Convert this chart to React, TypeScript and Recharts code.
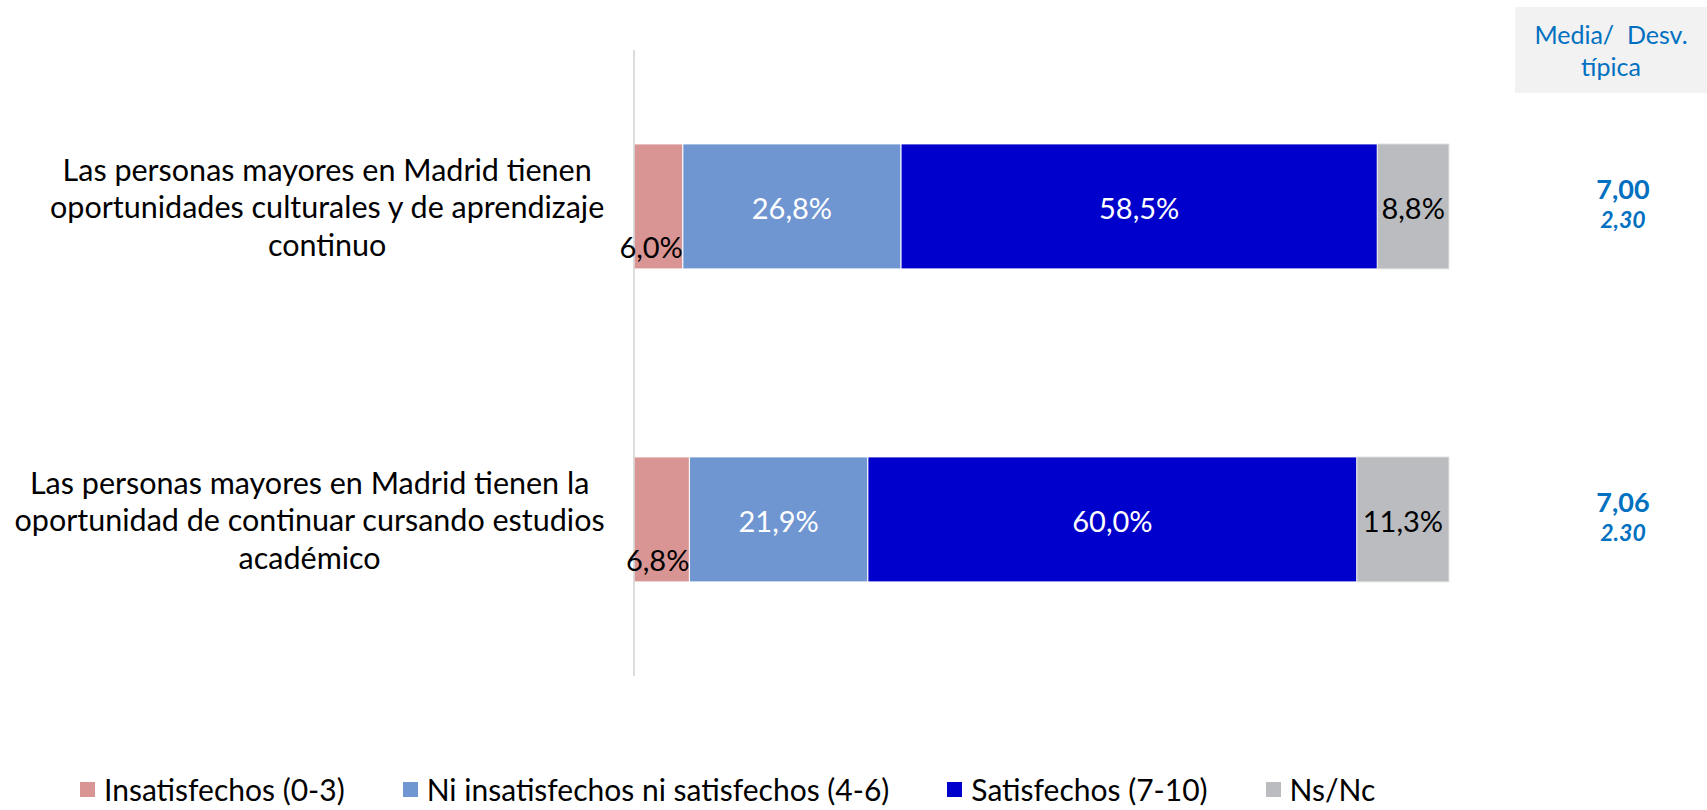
import * as React from "react";
import { BarChart, Bar, XAxis, YAxis, LabelList } from "recharts";

const categories = [
  "Las personas mayores en Madrid tienen oportunidades culturales y de aprendizaje continuo",
  "Las personas mayores en Madrid tienen la oportunidad de continuar cursando estudios académico",
];
const categoryLines = [
  ["Las personas mayores en Madrid tienen", "oportunidades culturales y de aprendizaje", "continuo"],
  ["Las personas mayores en Madrid tienen la", "oportunidad de continuar cursando estudios", "académico"],
];
const insatisfechos = [6.0, 6.8];
const neutros = [26.8, 21.9];
const satisfechos = [58.5, 60.0];
const nsnc = [8.8, 11.3];
const medias = ["7,00", "7,06"];
const desviaciones = ["2,30", "2.30"];

const seriesNames = [
  "Insatisfechos (0-3)",
  "Ni insatisfechos ni satisfechos (4-6)",
  "Satisfechos (7-10)",
  "Ns/Nc",
];
const seriesColors = ["#D99594", "#6F96D1", "#0000CC", "#BABCBF"];

const FONT = "Lato, 'Open Sans', sans-serif";
const BLUE = "#0070C0";

const data = categories.map((name, i) => ({
  name,
  ins: insatisfechos[i],
  neu: neutros[i],
  sat: satisfechos[i],
  ns: nsnc[i],
}));

const fmt = (v: number) => v.toFixed(1).replace(".", ",") + "%";

let ctx: CanvasRenderingContext2D | null = null;
function textWidth(s: string, size: number) {
  if (!ctx) ctx = document.createElement("canvas").getContext("2d");
  if (!ctx) return s.length * size * 0.5;
  ctx.font = `${size}px Lato`;
  return ctx.measureText(s).width;
}

const CategoryTick = (props: any) => {
  const { y, payload } = props;
  const idx = categories.indexOf(payload.value);
  const lines = categoryLines[idx] || [payload.value];
  const size = 30.5;
  const lh = 37.5;
  const right = 605;
  const w = Math.max(...lines.map((l) => textWidth(l, size)));
  const cx = right - w / 2;
  const y0 = y - ((lines.length - 1) * lh) / 2 + 1;
  return (
    <text x={cx} y={y0} textAnchor="middle" fontFamily={FONT} fontSize={size} fill="#000">
      {lines.map((l, i) => (
        <tspan key={i} x={cx} y={y0 + i * lh} dy="0.35em">
          {l}
        </tspan>
      ))}
    </text>
  );
};

const StatsTick = (props: any) => {
  const { x, y, payload } = props;
  const idx = categories.indexOf(payload.value);
  const cx = x + 166;
  return (
    <g>
      <text x={cx} y={y - 17} dy="0.35em" textAnchor="middle" fontFamily={FONT} fontWeight="bold" fontSize={27} fill={BLUE}>
        {medias[idx]}
      </text>
      <text x={cx} y={y + 13} dy="0.35em" textAnchor="middle" fontFamily={FONT} fontWeight="bold" fontStyle="italic" fontSize={23} fill={BLUE}>
        {desviaciones[idx]}
      </text>
    </g>
  );
};

const makeLabel = (values: number[], color: string, outside = false) => (props: any) => {
  const { x, y, width, height, index } = props;
  const v = values[index];
  if (outside) {
    return (
      <text x={x + width} y={y + height / 2 + 41} dy="0.35em" textAnchor="end" fontFamily={FONT} fontSize={29} fill={color}>
        {fmt(v)}
      </text>
    );
  }
  return (
    <text x={x + width / 2} y={y + height / 2 + 2} dy="0.35em" textAnchor="middle" fontFamily={FONT} fontSize={29} fill={color}>
      {fmt(v)}
    </text>
  );
};

export default function App() {
  return (
    <div style={{ position: "absolute", left: 0, top: 0, width: 1707, height: 810, overflow: "hidden", background: "#fff", fontFamily: FONT }}>
      <BarChart
        width={1707}
        height={810}
        data={data}
        layout="vertical"
        stackOffset="expand"
        barCategoryGap="30%"
        margin={{ top: 50, right: 0, bottom: 134, left: 0 }}
      >
        <XAxis type="number" domain={[0, 1]} hide />
        <YAxis
          yAxisId="left"
          type="category"
          dataKey="name"
          width={634}
          axisLine={{ stroke: "#D0D0D0", strokeWidth: 1.5 }}
          tickLine={false}
          tick={<CategoryTick />}
        />
        <YAxis
          yAxisId="right"
          orientation="right"
          type="category"
          dataKey="name"
          width={258}
          axisLine={false}
          tickLine={false}
          tick={<StatsTick />}
        />
        <Bar yAxisId="left" dataKey="ins" stackId="a" fill={seriesColors[0]} stroke="#fff" strokeWidth={1} isAnimationActive={false}>
          <LabelList content={makeLabel(insatisfechos, "#000", true)} />
        </Bar>
        <Bar yAxisId="left" dataKey="neu" stackId="a" fill={seriesColors[1]} stroke="#fff" strokeWidth={1} isAnimationActive={false}>
          <LabelList content={makeLabel(neutros, "#fff")} />
        </Bar>
        <Bar yAxisId="left" dataKey="sat" stackId="a" fill={seriesColors[2]} stroke="#fff" strokeWidth={1} isAnimationActive={false}>
          <LabelList content={makeLabel(satisfechos, "#fff")} />
        </Bar>
        <Bar yAxisId="left" dataKey="ns" stackId="a" fill={seriesColors[3]} stroke="#E6E6E6" strokeWidth={1} isAnimationActive={false}>
          <LabelList content={makeLabel(nsnc, "#000")} />
        </Bar>
      </BarChart>

      <div
        style={{
          position: "absolute",
          left: 1515,
          top: 7,
          width: 192,
          height: 86,
          background: "#F2F2F2",
          color: BLUE,
          fontSize: 25,
          textAlign: "center",
          lineHeight: "32px",
          paddingTop: 11,
          boxSizing: "border-box",
          whiteSpace: "pre",
        }}
      >
        {"Media/  Desv.\ntípica"}
      </div>

      <div
        style={{
          position: "absolute",
          left: 80,
          top: 771,
          display: "flex",
          alignItems: "center",
          fontSize: 30,
          color: "#000",
          whiteSpace: "nowrap",
        }}
      >
        {seriesNames.map((n, i) => (
          <div key={n} style={{ display: "flex", alignItems: "center", marginRight: 58 }}>
            <span style={{ width: 15, height: 15, background: seriesColors[i], marginRight: 9, display: "inline-block" }} />
            <span>{n}</span>
          </div>
        ))}
      </div>
    </div>
  );
}
